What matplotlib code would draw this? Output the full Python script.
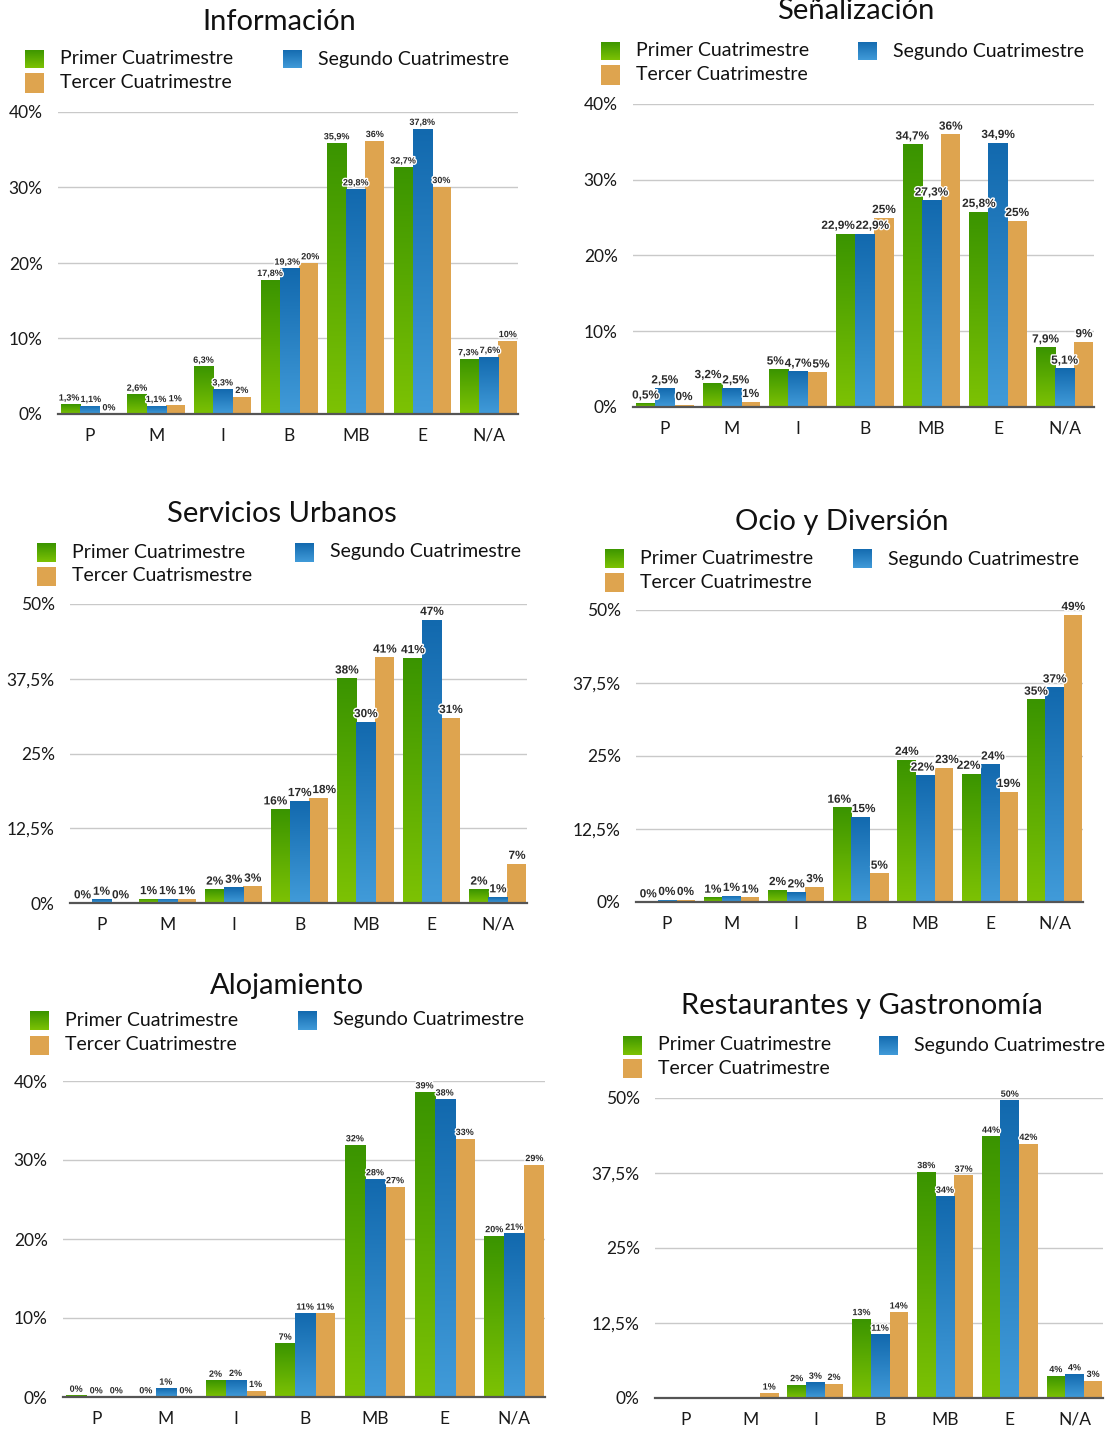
import numpy as np
import matplotlib
matplotlib.use("Agg")
import matplotlib.pyplot as plt
from matplotlib.colors import LinearSegmentedColormap
from matplotlib.patches import Rectangle
import matplotlib.patheffects as pe

plt.rcParams['font.family'] = ['Lato', 'DejaVu Sans']

# ---------------------------------------------------------------- data
categories = ['P', 'M', 'I', 'B', 'MB', 'E', 'N/A']
series_names = ['Primer Cuatrimestre', 'Segundo Cuatrimestre', 'Tercer Cuatrimestre']
series_names_servicios = ['Primer Cuatrimestre', 'Segundo Cuatrimestre', 'Tercer Cuatrismestre']

info_primer = [1.3, 2.6, 6.3, 17.8, 35.9, 32.7, 7.3]
info_segundo = [1.1, 1.1, 3.3, 19.3, 29.8, 37.8, 7.6]
info_tercer = [0.0, 1.2, 2.3, 20.0, 36.2, 30.1, 9.7]

senal_primer = [0.5, 3.2, 5.0, 22.9, 34.7, 25.8, 7.9]
senal_segundo = [2.5, 2.5, 4.7, 22.9, 27.3, 34.9, 5.1]
senal_tercer = [0.3, 0.7, 4.6, 25.0, 36.0, 24.6, 8.6]

serv_primer = [0.0, 0.7, 2.3, 15.7, 37.6, 41.0, 2.3]
serv_segundo = [0.6, 0.7, 2.6, 17.1, 30.3, 47.4, 1.0]
serv_tercer = [0.0, 0.7, 2.8, 17.6, 41.1, 31.0, 6.6]

ocio_primer = [0.0, 0.8, 2.1, 16.2, 24.4, 22.0, 34.7]
ocio_segundo = [0.4, 1.1, 1.7, 14.6, 21.7, 23.6, 36.8]
ocio_tercer = [0.4, 0.8, 2.6, 4.9, 23.0, 18.9, 49.2]

aloj_primer = [0.2, 0.0, 2.1, 6.8, 31.9, 38.6, 20.4]
aloj_segundo = [0.0, 1.1, 2.2, 10.6, 27.6, 37.7, 20.7]
aloj_tercer = [0.0, 0.0, 0.8, 10.6, 26.6, 32.7, 29.4]

rest_primer = [np.nan, np.nan, 2.2, 13.2, 37.7, 43.6, 3.7]
rest_segundo = [np.nan, np.nan, 2.6, 10.6, 33.6, 49.6, 4.0]
rest_tercer = [np.nan, 0.8, 2.4, 14.3, 37.1, 42.4, 2.9]

ticks_40 = [0, 10, 20, 30, 40]
ticks_50 = [0, 12.5, 25, 37.5, 50]

# ---------------------------------------------------------------- styling
W, H = 1113, 1429
GREEN_TOP, GREEN_BOT = '#3a9400', '#7dc204'
BLUE_TOP, BLUE_BOT = '#1269ae', '#419bd9'
ORANGE = '#dea44f'
green_cmap = LinearSegmentedColormap.from_list('g', [GREEN_TOP, GREEN_BOT])
blue_cmap = LinearSegmentedColormap.from_list('b', [BLUE_TOP, BLUE_BOT])
GRAD = np.linspace(0, 1, 128).reshape(-1, 1)

fig = plt.figure(figsize=(W / 100, H / 100), dpi=100)
fig.patch.set_facecolor('white')

# value labels per group, used to nudge apart labels that collide
label_groups = []


def fx(x):
    return x / W


def fy(y):
    return 1 - y / H


def fmt_value(v, dec):
    s = f"{v:.{dec}f}"
    if dec > 0 and s.endswith('.0'):
        s = s[:-2]
    return s.replace('.', ',') + '%'


def fmt_tick(v):
    s = f"{v:g}"
    return s.replace('.', ',') + '%'


def legend(names, sq_x, blue_x, row1, row2, size=14):
    sq = 19
    entries = [(sq_x, row1, 'g', names[0]),
               (blue_x, row1, 'b', names[1]),
               (sq_x, row2, 'o', names[2])]
    for x, y, kind, name in entries:
        if kind == 'o':
            r = Rectangle((fx(x), fy(y + sq / 2)), sq / W, sq / H,
                          transform=fig.transFigure, facecolor=ORANGE,
                          edgecolor='none')
            fig.patches.append(r)
        else:
            cmap = green_cmap if kind == 'g' else blue_cmap
            ax_sq = fig.add_axes([fx(x), fy(y + sq / 2), sq / W, sq / H])
            ax_sq.imshow(GRAD, cmap=cmap, aspect='auto')
            ax_sq.set_axis_off()
        fig.text(fx(x + sq + 16), fy(y), name, fontsize=size,
                 va='center', ha='left', color='#111111')


def panel(title, title_xy, box, ymax, ticks, values, decimals, label_size,
          names, leg):
    left, right, top, bottom = box
    ax = fig.add_axes([fx(left), fy(bottom), (right - left) / W,
                       (bottom - top) / H])
    x = np.arange(len(categories))
    w = 0.288
    offsets = [-w, 0, w]
    cmaps = [green_cmap, blue_cmap, None]
    groups = [[] for _ in categories]
    for k, (vals, dec) in enumerate(zip(values, decimals)):
        vals = np.asarray(vals, dtype=float)
        color = [GREEN_BOT, BLUE_BOT, ORANGE][k]
        bars = ax.bar(x + offsets[k], np.nan_to_num(vals), width=w,
                      color=color, edgecolor='none', zorder=2)
        for xi, v, patch in zip(x, vals, bars):
            if np.isnan(v):
                continue
            if cmaps[k] is not None and v > 0:
                x0 = xi + offsets[k] - w / 2
                im = ax.imshow(GRAD, cmap=cmaps[k], aspect='auto',
                               extent=[x0, x0 + w, 0, v], zorder=3)
                im.set_clip_path(patch)
            t = ax.annotate(fmt_value(v, dec), xy=(xi + offsets[k], v),
                            xytext=(0, 1.2), textcoords='offset points',
                            ha='center', va='bottom', fontsize=label_size,
                            fontweight='bold', color='#2a2a2a',
                            family=['Liberation Sans Narrow',
                                    'Liberation Sans'],
                            zorder=5,
                            path_effects=[pe.withStroke(linewidth=2,
                                                        foreground='white')])
            groups[xi].append(t)
    label_groups.extend(groups)
    ax.set_xlim(-0.477, 6.44)
    ax.set_ylim(0, ymax)
    ax.set_yticks(ticks)
    ax.set_yticklabels([fmt_tick(t) for t in ticks])
    ax.set_xticks(x)
    ax.set_xticklabels(categories)
    ax.grid(axis='y', color='#c9c9c9', linewidth=1.0, zorder=0)
    ax.set_axisbelow(True)
    for s in ('left', 'right', 'top'):
        ax.spines[s].set_visible(False)
    ax.spines['bottom'].set_color('#555555')
    ax.spines['bottom'].set_linewidth(1.6)
    ax.spines['bottom'].set_zorder(6)
    ax.tick_params(axis='both', length=0, labelsize=12.5,
                   labelcolor='#1a1a1a')
    ax.tick_params(axis='y', pad=11)
    ax.tick_params(axis='x', pad=10)
    ax.set_facecolor('none')

    fig.text(fx(title_xy[0]), fy(title_xy[1]), title, fontsize=21,
             ha='center', va='center', color='#111111')
    legend(names, *leg)


panel('Información', (279, 22), (58, 518, 112, 414), 40, ticks_40,
      [info_primer, info_segundo, info_tercer], [1, 1, 0], 6.5,
      series_names, (25, 283, 59, 83))

panel('Señalización', (856, 11), (633, 1094, 104, 407), 40, ticks_40,
      [senal_primer, senal_segundo, senal_tercer], [1, 1, 0], 8.5,
      series_names, (601, 858, 51, 75))

panel('Servicios Urbanos', (282, 514), (70, 527, 604, 903), 50, ticks_50,
      [serv_primer, serv_segundo, serv_tercer], [0, 0, 0], 8.5,
      series_names_servicios, (37, 295, 552, 576))

panel('Ocio y Diversión', (842, 522), (636, 1083, 610, 902), 50, ticks_50,
      [ocio_primer, ocio_segundo, ocio_tercer], [0, 0, 0], 8.5,
      series_names, (605, 853, 559, 582))

panel('Alojamiento', (287, 986), (63, 545, 1081, 1397), 40, ticks_40,
      [aloj_primer, aloj_segundo, aloj_tercer], [0, 0, 0], 6.5,
      series_names, (30, 298, 1020, 1045))

panel('Restaurantes y Gastronomía', (862, 1006), (655, 1103, 1098, 1398), 50,
      ticks_50, [rest_primer, rest_segundo, rest_tercer], [0, 0, 0], 6.5,
      series_names, (623, 879, 1045, 1068))

# spread apart neighbouring value labels that would otherwise collide
fig.canvas.draw()
renderer = fig.canvas.get_renderer()
px_to_pt = 72.0 / fig.dpi
for group in label_groups:
    for _ in range(4):
        moved = False
        for a, b in zip(group[:-1], group[1:]):
            ba = a.get_window_extent(renderer)
            bb = b.get_window_extent(renderer)
            overlap_x = ba.x1 - bb.x0 + 1.0
            overlap_y = min(ba.y1, bb.y1) - max(ba.y0, bb.y0)
            if overlap_x > 0 and overlap_y > 0:
                ax_, ay_ = a.xyann
                bx_, by_ = b.xyann
                a.xyann = (ax_ - overlap_x / 2 * px_to_pt, ay_)
                b.xyann = (bx_ + overlap_x / 2 * px_to_pt, by_)
                moved = True
        if not moved:
            break

fig.savefig('out.png', dpi=100, facecolor='white')
